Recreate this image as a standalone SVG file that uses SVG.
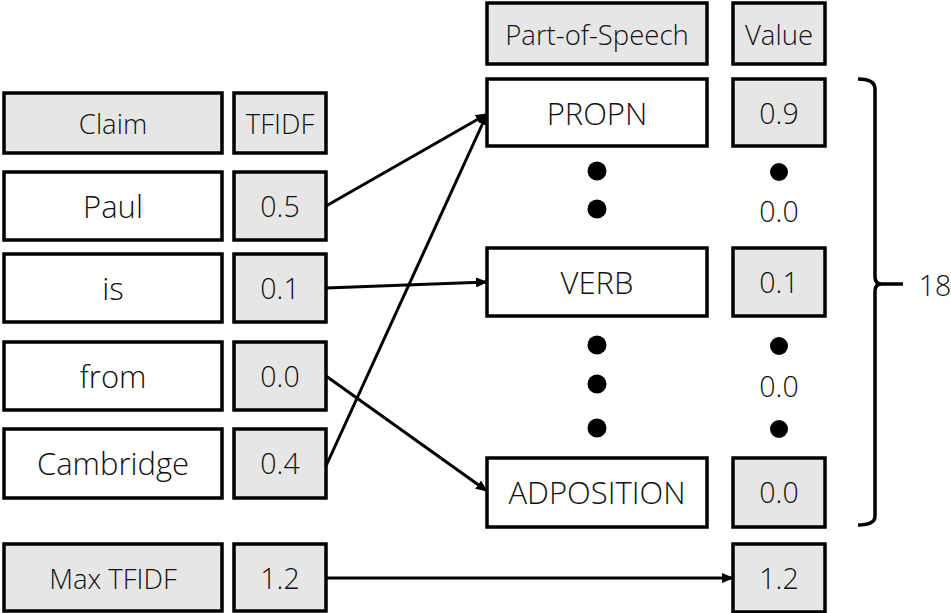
<svg xmlns="http://www.w3.org/2000/svg" width="951" height="613" viewBox="0 0 951 613">
<defs>
<style>
.box{fill:#ffffff;stroke:#000;stroke-width:3.5}
.gbox{fill:#e6e6e6;stroke:#000;stroke-width:3.5}
text{font-family:"Open Sans","Noto Sans","Liberation Sans",sans-serif;font-weight:300;fill:#111;text-anchor:middle;dominant-baseline:central}
.h{font-size:27.5px}
.t{font-size:31px}
.v{font-size:28.5px}
.conn line{stroke:#000;stroke-width:3;marker-end:url(#arr)}
.dot{fill:#000}
</style>
<marker id="arr" markerUnits="userSpaceOnUse" markerWidth="12" markerHeight="10" refX="11" refY="5" orient="auto">
<path d="M0,0 L12,5 L0,10 z" fill="#000"/>
</marker>
</defs>
<rect width="951" height="613" fill="#fff"/>

<g id="claim-header"><rect class="gbox" x="4" y="93" width="218" height="60"/><text class="h" x="113" y="123">Claim</text></g>
<g id="tfidf-header"><rect class="gbox" x="234" y="93" width="92" height="60"/><text class="h" x="280" y="123">TFIDF</text></g>

<g id="paul"><rect class="box" x="4" y="172" width="218" height="68"/><text class="t" x="113" y="206">Paul</text></g>
<g id="paul-tfidf"><rect class="gbox" x="234" y="172" width="92" height="68"/><text class="v" x="280" y="206">0.5</text></g>

<g id="is"><rect class="box" x="4" y="254" width="218" height="68"/><text class="t" x="113" y="288">is</text></g>
<g id="is-tfidf"><rect class="gbox" x="234" y="254" width="92" height="68"/><text class="v" x="280" y="288">0.1</text></g>

<g id="from"><rect class="box" x="4" y="342" width="218" height="68"/><text class="t" x="113" y="376">from</text></g>
<g id="from-tfidf"><rect class="gbox" x="234" y="342" width="92" height="68"/><text class="v" x="280" y="376">0.0</text></g>

<g id="cambridge"><rect class="box" x="4" y="429" width="218" height="69"/><text class="t" x="113" y="463">Cambridge</text></g>
<g id="cambridge-tfidf"><rect class="gbox" x="234" y="429" width="92" height="69"/><text class="v" x="280" y="463">0.4</text></g>

<g id="max-tfidf"><rect class="gbox" x="4" y="544" width="218" height="67"/><text class="h" x="113" y="578">Max TFIDF</text></g>
<g id="max-tfidf-value"><rect class="gbox" x="234" y="544" width="92" height="67"/><text class="v" x="280" y="578">1.2</text></g>

<g id="pos-header"><rect class="gbox" x="487" y="3" width="220" height="61"/><text class="h" x="597" y="34">Part-of-Speech</text></g>
<g id="value-header"><rect class="gbox" x="733" y="3" width="92" height="61"/><text class="h" x="779" y="34">Value</text></g>

<g id="propn"><rect class="box" x="487" y="79" width="220" height="67"/><text class="t" x="597" y="113">PROPN</text></g>
<g id="propn-value"><rect class="gbox" x="733" y="79" width="92" height="67"/><text class="v" x="779" y="113">0.9</text></g>

<g id="verb"><rect class="box" x="487" y="248" width="220" height="68"/><text class="t" x="597" y="282">VERB</text></g>
<g id="verb-value"><rect class="gbox" x="733" y="248" width="92" height="68"/><text class="v" x="779" y="282">0.1</text></g>

<g id="adposition"><rect class="box" x="487" y="458" width="220" height="69"/><text class="t" x="597" y="492">ADPOSITION</text></g>
<g id="adposition-value"><rect class="gbox" x="733" y="458" width="92" height="69"/><text class="v" x="779" y="492">0.0</text></g>

<g id="max-value"><rect class="gbox" x="733" y="544" width="92" height="68"/><text class="v" x="779" y="578">1.2</text></g>

<g id="ellipsis">
<circle class="dot" cx="597" cy="171" r="9.5"/>
<circle class="dot" cx="597" cy="209" r="9.5"/>
<circle class="dot" cx="779" cy="172" r="9"/>
<text class="v" x="779" y="211">0.0</text>
<circle class="dot" cx="597" cy="345" r="9.5"/>
<circle class="dot" cx="597" cy="384" r="9.5"/>
<circle class="dot" cx="597" cy="428" r="9.5"/>
<circle class="dot" cx="779" cy="346" r="9"/>
<text class="v" x="779" y="386">0.0</text>
<circle class="dot" cx="779" cy="429" r="9"/>
</g>

<g id="brace">
<path d="M858,79 Q875,79 875,89 L875,277 Q875,284 882,284 L903,284 M882,284 Q875,284 875,291 L875,516 Q875,525 858,525" fill="none" stroke="#000" stroke-width="3.5"/>
<text class="v" x="935" y="285">18</text>
</g>

<g id="connectors" class="conn">
<line x1="326" y1="206" x2="487" y2="114"/>
<line x1="326" y1="466" x2="487" y2="114"/>
<line x1="326" y1="288" x2="487" y2="282"/>
<line x1="326" y1="376" x2="487" y2="491"/>
<line x1="326" y1="578" x2="733" y2="578"/>
</g>
</svg>
